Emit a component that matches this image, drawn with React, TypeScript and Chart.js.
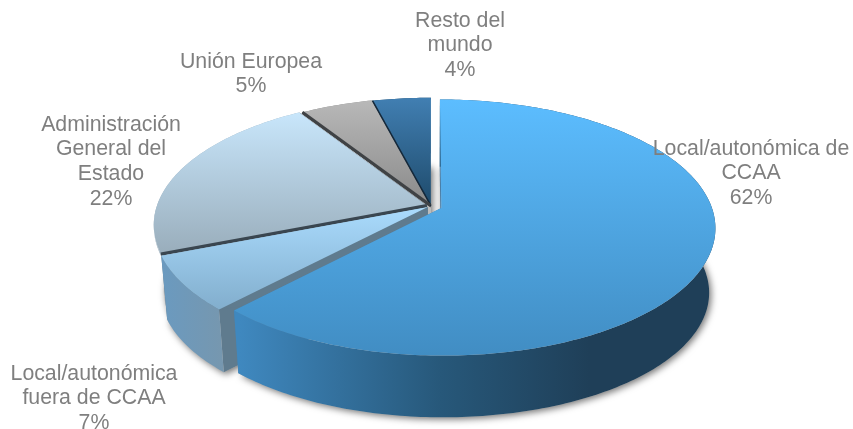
import React, { useEffect, useRef } from "react";
import { Chart, registerables } from "chart.js";

Chart.register(...registerables);

const categories = [
  ["Local/autonómica de", "CCAA"],
  ["Local/autonómica", "fuera de CCAA"],
  ["Administración", "General del", "Estado"],
  ["Unión Europea"],
  ["Resto del", "mundo"],
];
const shares = [62, 7, 22, 5, 4];
const sliceOffsets = [8.6, 3, 3.4, 1.4, 0.6];

const topStops = [
  ["#5cbdff", "#418dc3"],
  ["#aadbfd", "#82aecd"],
  ["#c8e6fb", "#99adbb"],
  ["#b8b8b8", "#8a8a8a"],
  ["#417fb2", "#1e4a6b"],
];
const wallStops = [
  [[240, "#3f88bf"], [440, "#27587a"], [590, "#1f3f58"], [715, "#1f3f58"]],
  [[160, "#6a9ac0"], [226, "#7797ae"]],
  [[150, "#9aaebc"], [300, "#9aaebc"]],
  [[300, "#8a8a8a"], [430, "#8a8a8a"]],
  [[370, "#1e4a6b"], [430, "#1e4a6b"]],
];
const cutColors = ["#4a7fa8", "#5f7b8e", "#3a4650", "#3f4245", "#14283a"];
const edgeWidths = [0, 0, 3, 3, 1.5];
const wallDepths = [1, 1, 0.03, 0.03, 0.03];
const floorFollowsOffset = [true, true, false, false, false];
const labelAnchors = [
  [751, 149],
  [94, 374],
  [111, 125],
  [251, 62],
  [460, 21],
];

// camera: unit disc -> picture
const CX = 431;
const CY = 206;
const A = 270;
const B = 124.5;
const K = 0.153;
const FLOOR_SCALE = 0.978;
const FLOOR_DROP = 65;

function project(u: number, v: number, depth: number): [number, number] {
  const w = 1 - K * v;
  const s = 1 - (1 - FLOOR_SCALE) * depth;
  return [CX + (s * A * u) / w, CY + (s * B * v) / w + FLOOR_DROP * depth];
}

function rimPoints(arc: any, depth: number, dx: number, dy: number) {
  const pts: [number, number][] = [];
  const n = Math.max(8, Math.ceil((arc.endAngle - arc.startAngle) * 60));
  for (let i = 0; i <= n; i++) {
    const a = arc.startAngle + ((arc.endAngle - arc.startAngle) * i) / n;
    pts.push(project(Math.cos(a) + dx, Math.sin(a) + dy, depth));
  }
  return pts;
}

function trace(ctx: CanvasRenderingContext2D, pts: [number, number][]) {
  ctx.beginPath();
  pts.forEach((p, i) => (i ? ctx.lineTo(p[0], p[1]) : ctx.moveTo(p[0], p[1])));
  ctx.closePath();
}

const pie3d = {
  id: "pie3d",
  beforeDatasetsDraw(chart: any) {
    const ctx: CanvasRenderingContext2D = chart.ctx;
    const arcs: any[] = chart.getDatasetMeta(0).data;
    const geom = arcs.map((arc, i) => {
      const mid = (arc.startAngle + arc.endAngle) / 2;
      const d = arc.options.offset / arc.outerRadius;
      const dx = Math.cos(mid) * d;
      const dy = Math.sin(mid) * d;
      const fx = floorFollowsOffset[i] ? dx : 0;
      const fy = floorFollowsOffset[i] ? dy : 0;
      return {
        arc,
        top: rimPoints(arc, 0, dx, dy),
        bottom: rimPoints(arc, wallDepths[i], dx, dy),
        floor: rimPoints(arc, 1, fx, fy),
        apexTop: project(dx, dy, 0),
        apexBottom: project(dx, dy, wallDepths[i]),
        apexFloor: project(fx, fy, 1),
      };
    });

    // floor with its soft shadow
    ctx.save();
    ctx.shadowColor = "rgba(0,0,0,0.55)";
    ctx.shadowBlur = 7;
    ctx.shadowOffsetX = 2;
    ctx.shadowOffsetY = 2;
    ctx.fillStyle = "#bcbcbc";
    geom.forEach((g) => {
      trace(ctx, [g.apexFloor, ...g.floor]);
      ctx.fill();
    });
    ctx.restore();

    // back to front
    [4, 3, 2, 1, 0].forEach((i) => {
      if (i === 0) {
        // dark edges between the rear slices
        [4, 3, 2].forEach((j) => {
          ctx.strokeStyle = cutColors[j];
          ctx.lineWidth = edgeWidths[j];
          ctx.beginPath();
          ctx.moveTo(geom[j].apexTop[0], geom[j].apexTop[1]);
          ctx.lineTo(geom[j].top[0][0], geom[j].top[0][1]);
          ctx.stroke();
        });
      }
      const g = geom[i];
      // cut faces
      ctx.fillStyle = cutColors[i];
      const first = g.top[0];
      const firstB = g.bottom[0];
      const last = g.top[g.top.length - 1];
      const lastB = g.bottom[g.bottom.length - 1];
      trace(ctx, [g.apexTop, first, firstB, g.apexBottom]);
      ctx.fill();
      trace(ctx, [g.apexTop, last, lastB, g.apexBottom]);
      ctx.fill();
      // outer wall
      const stops = wallStops[i] as [number, string][];
      const x0 = stops[0][0];
      const x1 = stops[stops.length - 1][0];
      const wg = ctx.createLinearGradient(x0, 0, x1, 0);
      stops.forEach(([x, c]) => wg.addColorStop((x - x0) / (x1 - x0), c));
      ctx.fillStyle = wg;
      trace(ctx, [...g.top, ...g.bottom.slice().reverse()]);
      ctx.fill();
      // top face
      const shape = [g.apexTop, ...g.top];
      const ys = shape.map((p) => p[1]);
      const tg = ctx.createLinearGradient(0, Math.min(...ys), 0, Math.max(...ys));
      tg.addColorStop(0, topStops[i][0]);
      tg.addColorStop(1, topStops[i][1]);
      ctx.fillStyle = tg;
      trace(ctx, shape);
      ctx.fill();
    });
    return false;
  },
  afterDraw(chart: any) {
    const ctx: CanvasRenderingContext2D = chart.ctx;
    ctx.save();
    ctx.font = '21.3px "Liberation Sans", Arial, sans-serif';
    ctx.fillStyle = "#7f7f7f";
    ctx.textAlign = "center";
    ctx.textBaseline = "middle";
    categories.forEach((lines, i) => {
      const [x, y] = labelAnchors[i];
      [...lines, `${shares[i]}%`].forEach((t, j) => {
        ctx.fillText(t, x, y + j * 24.6);
      });
    });
    ctx.restore();
  },
};

export default function App() {
  const ref = useRef<HTMLCanvasElement>(null);
  useEffect(() => {
    const chart = new Chart(ref.current!, {
      type: "pie",
      data: {
        labels: categories.map((c) => c.join(" ")),
        datasets: [
          {
            data: shares,
            offset: sliceOffsets,
            borderWidth: 0,
            backgroundColor: topStops.map((s) => s[0]),
          },
        ],
      },
      options: {
        responsive: false,
        animation: false,
        plugins: { legend: { display: false }, tooltip: { enabled: false } },
      },
      plugins: [pie3d],
    } as any);
    return () => chart.destroy();
  }, []);
  return (
    <canvas
      ref={ref}
      width={853}
      height={429}
      style={{ position: "absolute", left: 0, top: 0 }}
    />
  );
}
